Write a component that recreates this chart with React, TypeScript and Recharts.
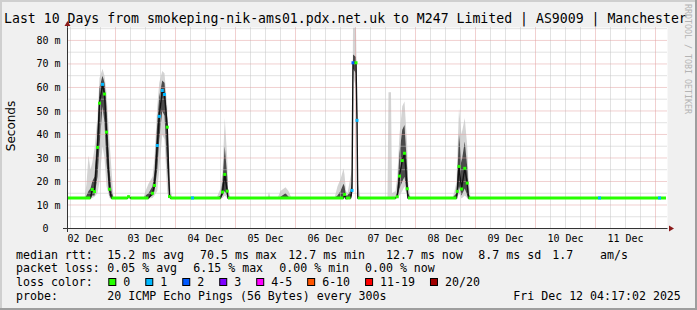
import React from "react";
import {
  ComposedChart,
  Area,
  Line,
  XAxis,
  YAxis,
  CartesianGrid,
  ReferenceLine,
} from "recharts";

// hours since the left edge of the graph (Dec 02 ~04:48), one entry per sample we keep
const hours = [
  0, 6.8, 7.6, 8.4, 9.2, 9.9, 10.8, 12.0, 12.8, 14.0, 14.8, 15.6, 16.8, 17.6, 18.4,
  24.0, 24.4, 25.2,
  30.4, 31.2, 32.4, 34.0, 34.8, 35.9, 36.7, 37.9, 38.8, 39.9, 40.8, 41.2, 42.0,
  50.0,
  59.6, 60.4, 61.2, 62.0, 62.9, 63.9, 64.2, 65.2,
  80.0, 80.6, 81.2, 84.0, 85.2, 87.2, 88.4, 89.6,
  106.8, 108.0, 109.2, 110.4, 110.8, 111.4, 112.0, 113.2, 113.8, 114.2, 115.4, 115.8, 116.1, 117.2,
  128.0, 128.4, 129.4, 129.8, 131.2, 131.9, 132.8, 133.9, 134.8, 135.9, 136.2, 137.2,
  154.0, 154.8, 155.6, 155.9, 156.6, 157.6, 158.9, 159.9, 160.4, 161.2,
  212.8, 236.8, 239.4,
];

// median rtt in ms
const medianMs = [
  13, 13, 13, 13, 13, 16.6, 15.7, 34.5, 53.3, 61.3, 57.2, 41, 16.7, 13, 13,
  13, 13.5, 13,
  13, 13, 13, 15.0, 18.3, 35.3, 47.7, 58.7, 57, 43.1, 13.6, 13, 13,
  13,
  13, 13, 13, 15.5, 23, 15.9, 13, 13,
  13, 13, 13, 13, 13, 13, 13, 13,
  13, 13, 13, 13, 14.5, 12.7, 13, 13, 16.2, 70.5, 70.5, 46, 13, 13,
  13, 13, 13, 13, 13, 13.5, 22.3, 28.9, 32, 16.9, 13, 13,
  13, 13, 13, 15.8, 26.4, 16.8, 25.6, 19.3, 13, 13,
  13, 13, 13,
];

// index into lossColors
const lossIdx = [
  0, 0, 0, 0, 0, 0, 0, 0, 0, 1, 0, 0, 0, 0, 0,
  0, 0, 0,
  0, 0, 0, 0, 0, 1, 1, 1, 1, 0, 0, 0, 0,
  1,
  0, 0, 0, 0, 0, 0, 0, 0,
  0, 0, 0, 0, 0, 0, 0, 0,
  0, 0, 0, 0, 0, 0, 0, 0, 1, 2, 0, 1, 0, 0,
  0, 0, 0, 0, 0, 0, 0, 0, 0, 0, 0, 0,
  0, 0, 0, 0, 0, 0, 0, 0, 0, 0,
  1, 1, 0,
];

// smoke: full spread of the pings
const smokeLow = [
  13, 13, 12.8, 12.8, 13, 13, 13.5, 15, 20, 35, 30, 18, 13, 12.8, 13,
  13, 13, 13,
  13, 12.8, 12.8, 13, 14, 16, 25, 40, 38, 15, 13, 13, 13,
  13,
  13, 12.8, 12.8, 13, 14, 13, 12.8, 13,
  13, 13, 13, 13, 13, 13, 13, 13,
  13, 12.8, 12.8, 13, 13, 12.5, 12.8, 13, 13, 65, 60, 40, 13, 13,
  13, 13, 13, 13, 13, 13, 14, 16, 18, 13, 13, 13,
  13, 12.8, 12.8, 13, 15, 12.8, 14, 13, 12.8, 13,
  13, 13, 13,
];
const smokeHigh = [
  13, 13, 19, 31, 25, 28, 34, 48, 64, 68, 65, 58, 37, 25, 13,
  13, 14.5, 13,
  13, 16, 19, 22, 30, 52, 62, 67, 66, 52, 22, 17, 13,
  13,
  13, 15, 17, 24, 47, 30, 17, 13,
  13, 15.5, 13, 13, 16, 17.5, 16, 13,
  13, 18, 21, 25.5, 23, 16, 15, 22, 25, 85.5, 85.5, 58, 20, 13,
  13, 58, 58, 15, 16, 22, 40, 52, 54, 35, 20, 13,
  13, 16, 20, 30, 51, 40, 47, 35, 22, 13,
  13, 13, 13,
];
// darker core of the smoke around the median
const coreLow = [
  13, 13, 13, 13, 13, 14, 14, 22, 35, 52, 45, 28, 14, 13, 13,
  13, 13, 13,
  13, 13, 13, 14, 16, 25, 38, 50, 48, 25, 13, 13, 13,
  13,
  13, 13, 13, 14, 16, 14, 13, 13,
  13, 13, 13, 13, 13, 13, 13, 13,
  13, 13, 13, 13, 13.5, 12.8, 13, 13, 14, 68, 66, 44, 13, 13,
  13, 13, 13, 13, 13, 13, 17, 20, 22, 14, 13, 13,
  13, 13, 13, 14, 18, 14, 17, 14, 13, 13,
  13, 13, 13,
];
const coreHigh = [
  13, 13, 14, 16, 17, 20, 22, 42, 60, 65, 62, 52, 25, 16, 13,
  13, 14, 13,
  13, 14, 15, 18, 24, 45, 56, 63, 62, 47, 16, 14, 13,
  13,
  13, 13.5, 14, 20, 35, 22, 14, 13,
  13, 13.5, 13, 13, 13.5, 15, 13.5, 13,
  13, 14, 16, 19, 18, 14, 14, 16, 20, 74, 73, 52, 14, 13,
  13, 13, 13, 13, 13, 16, 32, 42, 44, 25, 15, 13,
  13, 14, 15, 22, 40, 28, 37, 26, 15, 13,
  13, 13, 13,
];

const dayLabels = ["02 Dec", "03 Dec", "04 Dec", "05 Dec", "06 Dec", "07 Dec", "08 Dec", "09 Dec", "10 Dec", "11 Dec"];
const noonTicks = [7.2, 31.2, 55.2, 79.2, 103.2, 127.2, 151.2, 175.2, 199.2, 223.2];
const midnightTicks = [19.2, 43.2, 67.2, 91.2, 115.2, 139.2, 163.2, 187.2, 211.2, 235.2];
const msTicks = [0, 10, 20, 30, 40, 50, 60, 70, 80];
const halfMsTicks = [5, 15, 25, 35, 45, 55, 65, 75, 85];

const lossColors = ["#26ff00", "#00b8ff", "#0059ff", "#7e00ff", "#ff00ff", "#ff5500", "#ff0000", "#a10000"];
const lossLabels = ["0", "1", "2", "3", "4-5", "6-10", "11-19", "20/20"];

const rttCells = ["15.2 ms avg", "70.5 ms max", "12.7 ms min", "12.7 ms now", "8.7 ms sd", "1.7", "am/s"];
const lossCells = ["0.05 % avg", "6.15 % max", "0.00 % min", "0.00 % now"];
const probeText = "20 ICMP Echo Pings (56 Bytes) every 300s";
const stampText = "Fri Dec 12 04:17:02 2025";
const title = "Last 10 Days from smokeping-nik-ams01.pdx.net.uk to M247 Limited | AS9009 | Manchester";

// 6 hour minor grid, skipping the midnight lines
const sixHourTicks = Array.from({ length: 40 }, (_, k) => k)
  .filter((k) => k % 4 !== 3)
  .map((k) => 1.2 + 6 * k);

const rows = hours.map((t, i) => ({
  t,
  med: medianMs[i],
  mark: medianMs[i],
  loss: lossIdx[i],
  base: medianMs[i] <= 13.2 ? medianMs[i] : null,
  smoke: [smokeLow[i], smokeHigh[i]],
  core: [coreLow[i], coreHigh[i]],
}));

const mono = "'DejaVu Sans Mono', monospace";

const lossDot = (props: any) => {
  const { cx, cy, payload, index } = props;
  if (cx == null || cy == null || (payload.base !== null && payload.loss === 0)) {
    return <g key={`d${index}`} />;
  }
  return (
    <rect
      key={`d${index}`}
      x={cx - 1.5}
      y={cy - 1.5}
      width={3}
      height={3}
      fill={lossColors[payload.loss]}
    />
  );
};

const App: React.FC = () => {
  const rttX = [107.3, 200, 288.3, 386, 478.3, 552.3, 600];
  const lossX = [107.3, 193.3, 279.3, 365];
  let sq = 108.3;
  const legendPos = lossLabels.map((l) => {
    const x = sq;
    sq += 30 + 6.98 * l.length;
    return x;
  });

  return (
    <div style={{ position: "relative", width: 697, height: 310, background: "#f0f0f0" }}>
      <style>{"body{margin:0}"}</style>
      <ComposedChart
        width={697}
        height={310}
        data={rows}
        margin={{ top: 27.5, right: 29.5, bottom: 51.5, left: 7.5 }}
      >
        <CartesianGrid fill="#ffffff" horizontal={false} vertical={false} />
        <XAxis
          type="number"
          dataKey="t"
          domain={[0, 240]}
          ticks={noonTicks}
          interval={0}
          allowDataOverflow
          tickFormatter={(v) => dayLabels[noonTicks.indexOf(v)]}
          tickLine={false}
          tickSize={4}
          tickMargin={2}
          height={30}
          axisLine={{ stroke: "#333" }}
          tick={{ fontSize: 10, fontFamily: mono, fill: "#000" }}
        />
        <YAxis
          type="number"
          domain={[0, 85.5]}
          ticks={msTicks}
          interval={0}
          allowDataOverflow
          width={60}
          tickFormatter={(v) => (v === 0 ? "0\u00a0\u00a0" : `${v} m`)}
          tickLine={false}
          tickSize={5}
          tickMargin={2}
          axisLine={{ stroke: "#333" }}
          tick={{ fontSize: 10, fontFamily: mono, fill: "#000" }}
        />
        <Area
          dataKey="smoke"
          type="linear"
          stroke="none"
          fill="#d4d4d4"
          fillOpacity={1}
          dot={false}
          activeDot={false}
          isAnimationActive={false}
        />
        <Area
          dataKey="core"
          type="linear"
          stroke="none"
          fill="#4a4a4a"
          fillOpacity={1}
          dot={false}
          activeDot={false}
          isAnimationActive={false}
        />
        {sixHourTicks.map((v) => (
          <ReferenceLine key={`mx${v}`} x={v} stroke="#c4c4c4" strokeDasharray="1 1" />
        ))}
        {halfMsTicks.map((v) => (
          <ReferenceLine key={`my${v}`} y={v} stroke="#c4c4c4" strokeDasharray="1 1" />
        ))}
        {midnightTicks.map((v) => (
          <ReferenceLine key={`Mx${v}`} x={v} stroke="#e2a0a0" strokeDasharray="1 1" />
        ))}
        {msTicks.slice(1).map((v) => (
          <ReferenceLine key={`My${v}`} y={v} stroke="#e2a0a0" strokeDasharray="1 1" />
        ))}
        <Line
          dataKey="med"
          type="linear"
          stroke="#111"
          strokeWidth={1.4}
          dot={false}
          activeDot={false}
          isAnimationActive={false}
        />
        <Line
          dataKey="base"
          type="linear"
          stroke="#26ff00"
          strokeWidth={3}
          dot={false}
          activeDot={false}
          isAnimationActive={false}
        />
        <Line
          dataKey="mark"
          type="linear"
          stroke="none"
          dot={lossDot}
          activeDot={false}
          isAnimationActive={false}
        />
      </ComposedChart>

      <svg
        width={697}
        height={310}
        style={{ position: "absolute", left: 0, top: 0, pointerEvents: "none" }}
      >
        <rect x={0} y={0} width={697} height={2} fill="#cfcfcf" />
        <rect x={0} y={0} width={2} height={310} fill="#cfcfcf" />
        <rect x={0} y={308} width={697} height={2} fill="#9e9e9e" />
        <rect x={695} y={0} width={2} height={310} fill="#9e9e9e" />

        <text x={4} y={23} fontFamily={mono} fontSize={13.2} fill="#000">
          {title}
        </text>
        <text
          transform="translate(684.5,4) rotate(90)"
          fontFamily={mono}
          fontSize={8.3}
          fill="#b4b4b4"
        >
          RRDTOOL / TOBI OETIKER
        </text>
        <text
          transform="translate(14.5,126) rotate(-90)"
          textAnchor="middle"
          fontFamily="'DejaVu Sans', sans-serif"
          fontSize={12}
          fill="#000"
        >
          Seconds
        </text>

        {/* axis arrows */}
        <line x1={63} y1={228.5} x2={67.5} y2={228.5} stroke="#333" />
        <line x1={67.5} y1={228.5} x2={67.5} y2={232} stroke="#333" />
        <line x1={67.5} y1={27.5} x2={67.5} y2={25} stroke="#333" />
        <polygon points="67.5,21 64.5,26 70.5,26" fill="#8b1a1a" />
        <polygon points="674,228.5 669,225.5 669,231.5" fill="#8b1a1a" />

        <g fontFamily={mono} fontSize={11.6} fill="#000">
          <text x={16} y={258.5}>median rtt:</text>
          {rttCells.map((c, i) => (
            <text key={`r${i}`} x={rttX[i]} y={258.5}>{c}</text>
          ))}
          <text x={16} y={272.2}>packet loss:</text>
          {lossCells.map((c, i) => (
            <text key={`l${i}`} x={lossX[i]} y={272.2}>{c}</text>
          ))}
          <text x={16} y={286}>loss color:</text>
          {lossLabels.map((l, i) => (
            <g key={`c${i}`}>
              <rect
                x={legendPos[i] + 0.5}
                y={278.5}
                width={7}
                height={7}
                fill={lossColors[i]}
                stroke="#000"
              />
              <text x={legendPos[i] + 15} y={286}>{l}</text>
            </g>
          ))}
          <text x={16} y={299.7}>probe:</text>
          <text x={107.3} y={299.7}>{probeText}</text>
          <text x={513.3} y={299.7}>{stampText}</text>
        </g>
      </svg>
    </div>
  );
};

export default App;
